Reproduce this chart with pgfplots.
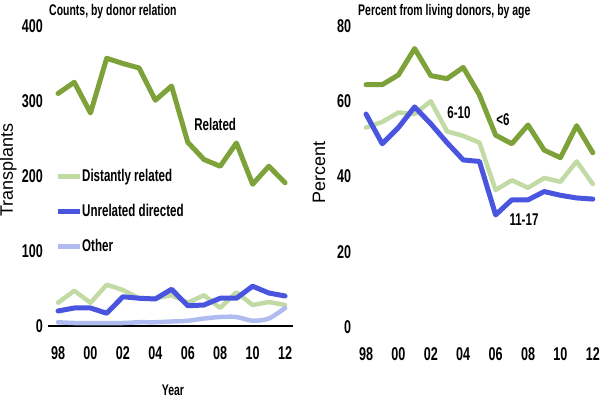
\documentclass[border=0pt]{standalone}
\usepackage{pgfplots}
\pgfplotsset{compat=1.18}
\usepackage{fontspec}
\setmainfont{Liberation Sans}
\newfontfamily\condb[FakeStretch=0.68]{Liberation Sans}
\newcommand{\tkf}{\condb\bfseries\fontsize{18.5}{20}\selectfont}
\newcommand{\ttlf}{\condb\bfseries\fontsize{15.4}{17}\selectfont}
\newcommand{\lgf}{\condb\bfseries\fontsize{17}{19}\selectfont}
\newcommand{\ylf}{\fontsize{18}{20}\selectfont}
\definecolor{dgreen}{HTML}{7DA23A}
\definecolor{lgreen}{HTML}{C2DBA5}
\definecolor{dblue}{HTML}{4A55DF}
\definecolor{lav}{HTML}{B0BCF0}
\pgfplotsset{
  common/.style={
    scale only axis, clip=false,
    major tick length=0pt,
    xtick={1998,2000,2002,2004,2006,2008,2010,2012},
    xticklabels={98,00,02,04,06,08,10,12},
    tick label style={font=\tkf},
    xticklabel style={anchor=center, yshift=-27pt},
    yticklabel style={anchor=east, inner sep=0pt, xshift=-5pt},
    every axis plot/.append style={line join=round, line cap=round},
  }
}
\begin{document}
\begin{tikzpicture}[x=1pt,y=1pt]
\path[use as bounding box] (0,0) rectangle (600,399);
% ---------------- left panel
\begin{axis}[common,
  width=245pt, height=300pt,
  at={(48pt,73pt)}, anchor=south west,
  xmin=1997.38, xmax=2012.49, ymin=0, ymax=400,
  axis x line=bottom, axis y line=left,
  x axis line style={-, line width=2pt, black},
  y axis line style={draw=none},
  ytick={0,100,200,300,400}, yticklabels={0,100,200,300,400},
  legend style={draw=none, fill=none, at={(axis cs:1997.81,210)}, anchor=north west,
    font=\lgf, row sep=19pt, inner sep=0pt,
    nodes={inner sep=0pt, text height=12.5pt, text depth=3.5pt},
    cells={anchor=west}},
  legend image code/.code={\draw[#1, line width=5pt, line cap=butt] (0pt,0pt) -- (22pt,0pt);},
]
\addplot[dgreen, line width=5pt, forget plot] coordinates {
(1998,310) (1999,325) (2000,284) (2001,357) (2002,350) (2003,344) (2004,301) (2005,320)
(2006,245) (2007,222) (2008,213) (2009,244) (2010,189) (2011,213) (2012,191)};
\addplot[lgreen, line width=4.5pt] coordinates {
(1998,31) (1999,47) (2000,31) (2001,55) (2002,48) (2003,37) (2004,37) (2005,41)
(2006,31) (2007,41) (2008,24) (2009,45) (2010,28) (2011,32) (2012,28)};
\addlegendentry{Distantly related}
\addplot[dblue, line width=5pt] coordinates {
(1998,20) (1999,24) (2000,24) (2001,17) (2002,39) (2003,37) (2004,36) (2005,49)
(2006,27) (2007,28) (2008,37) (2009,37) (2010,53) (2011,44) (2012,40)};
\addlegendentry{Unrelated directed}
\addplot[lav, line width=4.5pt, smooth] coordinates {
(1998,5) (1999,4) (2000,4) (2001,4) (2002,4) (2003,5) (2004,5) (2005,6)
(2006,7) (2007,10) (2008,12) (2009,12) (2010,7) (2011,10) (2012,24)};
\addlegendentry{Other}
\node[anchor=west, font=\lgf, inner sep=0pt] at (axis cs:2006.39,269) {Related};
\end{axis}
% ---------------- right panel
\begin{axis}[common,
  width=243pt, height=301pt,
  at={(356.3pt,72pt)}, anchor=south west,
  xmin=1997.4, xmax=2012.4, ymin=0, ymax=80,
  axis line style={draw=none},
  ytick={0,20,40,60,80}, yticklabels={0,20,40,60,80},
]
\addplot[lgreen, line width=4.5pt] coordinates {
(1998,53) (1999,54.5) (2000,57) (2001,56.6) (2002,60) (2003,52) (2004,50.8) (2005,49)
(2006,36.4) (2007,39) (2008,37) (2009,39.6) (2010,38.6) (2011,44) (2012,38)};
\addplot[dblue, line width=5pt] coordinates {
(1998,56.6) (1999,48.7) (2000,53) (2001,58.5) (2002,54) (2003,49) (2004,44.4) (2005,44)
(2006,29.8) (2007,33.8) (2008,33.8) (2009,36) (2010,35) (2011,34.3) (2012,34)};
\addplot[dgreen, line width=5pt] coordinates {
(1998,64.4) (1999,64.4) (2000,67) (2001,74) (2002,66.8) (2003,66) (2004,69) (2005,61.7)
(2006,51) (2007,48.7) (2008,53.7) (2009,47) (2010,45) (2011,53.5) (2012,46.3)};
\node[font=\lgf, inner sep=0pt] at (axis cs:2003.74,56.9) {6-10};
\node[font=\lgf, inner sep=0pt] at (axis cs:2006.45,55.0) {<6};
\node[font=\lgf, inner sep=0pt] at (axis cs:2007.75,28.4) {11-17};
\end{axis}
% ---------------- titles and labels
\node[anchor=west, font=\ttlf, inner sep=0pt] at (49,387) {Counts, by donor relation};
\node[anchor=west, font=\ttlf, inner sep=0pt] at (358,387) {Percent from living donors, by age};
\node[anchor=base, rotate=90, font=\ylf, inner sep=0pt] at (13,229) {Transplants};
\node[anchor=base, rotate=90, font=\ylf, inner sep=0pt] at (325,226.5) {Percent};
\node[anchor=base, font=\ttlf, inner sep=0pt] at (173,3) {Year};
\end{tikzpicture}
\end{document}
